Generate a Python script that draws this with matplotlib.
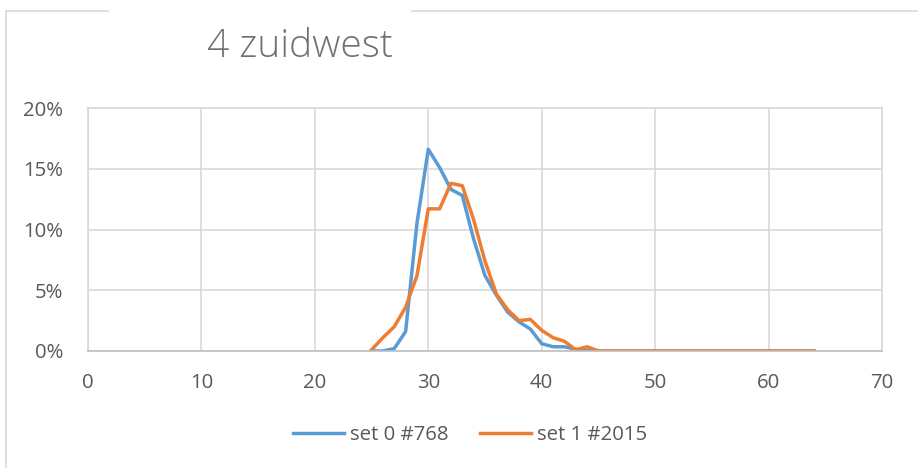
import matplotlib
matplotlib.use('Agg')
import matplotlib.pyplot as plt
from matplotlib.lines import Line2D
from matplotlib.ticker import FuncFormatter

# values in percent, x from 25 to 64
x_vals = list(range(25, 65))
set0 = [0, 0, 0.2, 1.6, 10.5, 16.6, 15.1, 13.3, 12.8, 9.2,
        6.2, 4.6, 3.2, 2.4, 1.8, 0.6, 0.35, 0.35, 0.15, 0.05] + [0] * 20
set1 = [0.1, 1.1, 2.0, 3.6, 6.2, 11.7, 11.7, 13.8, 13.6, 10.8,
        7.4, 4.7, 3.4, 2.5, 2.6, 1.7, 1.1, 0.8, 0.1, 0.35] + [0] * 20
labels = ['set 0 #768', 'set 1 #2015']
title = '4 zuidwest'

plt.rcParams['font.family'] = ['Open Sans', 'DejaVu Sans']

W, H = 918, 468
fig = plt.figure(figsize=(W / 100, H / 100), dpi=100)
ax = fig.add_axes([88 / W, 1 - 351 / H, (882 - 88) / W, (351 - 108) / H])

ax.plot(x_vals, set0, color='#5B9BD5', lw=2.5, label=labels[0], solid_joinstyle='round')
ax.plot(x_vals, set1, color='#ED7D31', lw=2.5, label=labels[1], solid_joinstyle='round')

ax.set_xlim(0, 70)
ax.set_ylim(0, 20)
ax.set_xticks(range(0, 71, 10))
ax.set_yticks(range(0, 21, 5))
ax.yaxis.set_major_formatter(FuncFormatter(lambda v, p: f'{int(v)}%'))
ax.grid(True, color='#D9D9D9', lw=1.2)
ax.set_axisbelow(True)
for s in ax.spines.values():
    s.set_color('#D9D9D9')
    s.set_linewidth(1.2)
ax.spines['bottom'].set_color('#BFBFBF')
ax.tick_params(length=0, labelsize=14.7, colors='#595959')
ax.tick_params(axis='y', pad=18)
ax.tick_params(axis='x', pad=16)

# outer chart frame, cut where the title sits
border = '#D9D9D9'
fig.add_artist(Line2D([6 / W, 6 / W], [1 - 11 / H, 0], color=border, lw=1.2))
fig.add_artist(Line2D([6 / W, 108 / W], [1 - 11 / H, 1 - 11 / H], color=border, lw=1.2))
fig.add_artist(Line2D([412 / W, 1], [1 - 11 / H, 1 - 11 / H], color=border, lw=1.2))

fig.text(207 / W, 1 - 47 / H, title, fontsize=28, color='#707070',
         fontweight=300, ha='left', va='center')

fig.legend(loc='center', bbox_to_anchor=(470 / W, 1 - 435 / H), ncol=2,
           frameon=False, fontsize=14.7, labelcolor='#595959',
           handlelength=2.5, handletextpad=0.3, columnspacing=1.5)

fig.savefig('out.png', dpi=100)
